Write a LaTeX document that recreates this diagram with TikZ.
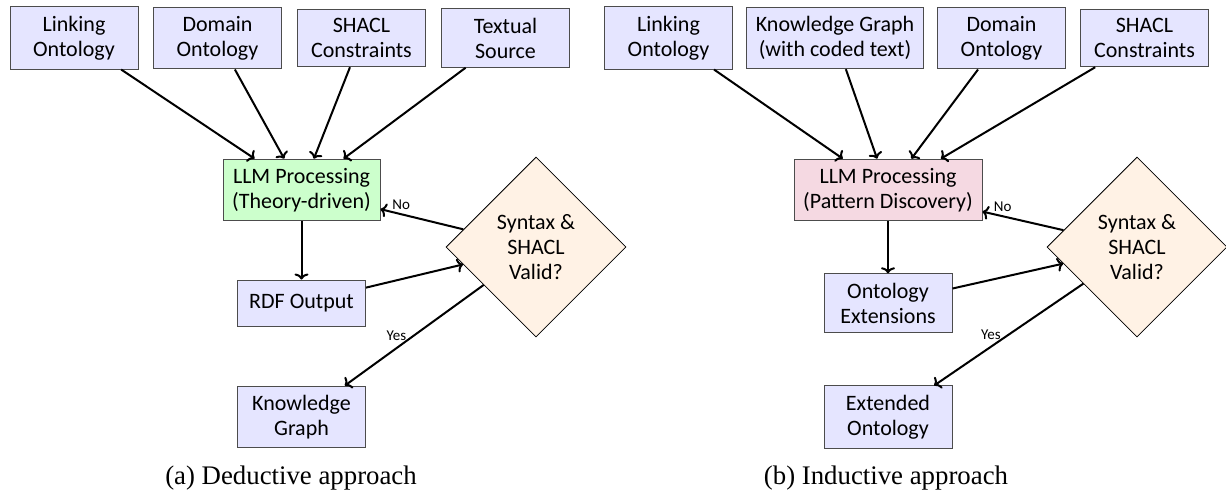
\documentclass[tikz,border=0pt]{standalone}
\usepackage{fontspec}
\setmainfont{Liberation Serif}
\setsansfont{Carlito}
\usetikzlibrary{shapes.geometric,arrows.meta}
\begin{document}
\begin{tikzpicture}[x=0.5pt,y=-0.5pt,
  every node/.style={font=\sffamily\fontsize{11}{12.5}\selectfont},
  box/.style={draw=black!70, line width=0.5pt, fill=blue!10, align=center, inner sep=4.5pt, minimum width=64pt, minimum height=23pt},
  llmA/.style={box, fill=green!20, minimum width=78.5pt},
  llmB/.style={box, fill=purple!15, minimum width=94pt},
  check/.style={diamond, aspect=1, draw=black, line width=0.4pt, fill=orange!10, align=center, inner sep=0pt, minimum width=90pt, minimum height=90pt},
  conn/.style={-{To[length=3pt,width=7pt]}, line width=1pt},
  lbl/.style={font=\sffamily\fontsize{7.5}{9}\selectfont, inner sep=2pt},
  captext/.style={font=\rmfamily\fontsize{13.4}{15}\selectfont}
]
\useasboundingbox (0,0) rectangle (1226,495);
% ---- (a) deductive
\node[box] (a1) at (74,38) {Linking\\Ontology};
\node[box] (a2) at (217.5,38) {Domain\\Ontology};
\node[box] (a3) at (361.5,38) {SHACL\\Constraints};
\node[box] (a4) at (505.5,38) {Textual\\Source};
\node[llmA] (allm) at (301.5,190) {LLM Processing\\(Theory-driven)};
\node[box] (ardf) at (301.5,303) {RDF Output};
\node[box] (akg) at (301.5,417) {Knowledge\\Graph};
\node[check] (adia) at (536,247) {Syntax \&\\SHACL\\Valid?};
\node[captext] (capa) at (291,478) {(a) Deductive approach};
\draw[conn] (a1) -- (allm);
\draw[conn] (a2) -- (allm);
\draw[conn] (a3) -- (allm);
\draw[conn] (a4) -- (allm);
\draw[conn] (allm) -- (ardf);
\draw[conn] (ardf) -- (adia);
\draw[conn] (adia) -- node[lbl, near end, above] {No} (allm);
\draw[conn] (adia) -- node[lbl, midway, left, xshift=-1.5pt] {Yes} (akg);
% ---- (b) inductive
\node[box] (b1) at (668.5,38) {Linking\\Ontology};
\node[box, minimum width=88pt] (b2) at (835,38) {Knowledge Graph\\(with coded text)};
\node[box] (b3) at (1001.5,38) {Domain\\Ontology};
\node[box] (b4) at (1144.5,38) {SHACL\\Constraints};
\node[llmB] (bllm) at (888,190) {LLM Processing\\(Pattern Discovery)};
\node[box] (bext) at (888,303) {Ontology\\Extensions};
\node[box] (bonto) at (888,417) {Extended\\Ontology};
\node[check] (bdia) at (1137,247) {Syntax \&\\SHACL\\Valid?};
\node[captext] (capb) at (886,478) {(b) Inductive approach};
\draw[conn] (b1) -- (bllm);
\draw[conn] (b2) -- (bllm);
\draw[conn] (b3) -- (bllm);
\draw[conn] (b4) -- (bllm);
\draw[conn] (bllm) -- (bext);
\draw[conn] (bext) -- (bdia);
\draw[conn] (bdia) -- node[lbl, near end, above] {No} (bllm);
\draw[conn] (bdia) -- node[lbl, midway, left, xshift=-1.5pt] {Yes} (bonto);
\end{tikzpicture}
\end{document}
